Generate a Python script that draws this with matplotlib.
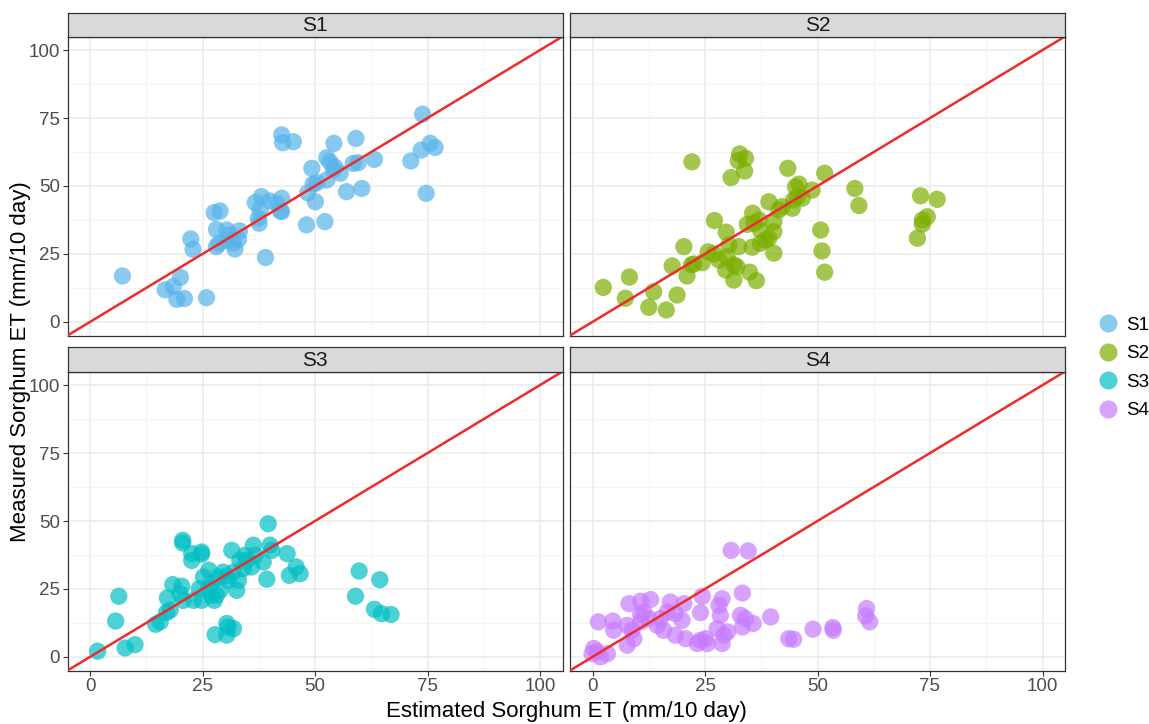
import matplotlib
matplotlib.use("Agg")
import matplotlib.pyplot as plt
from matplotlib.lines import Line2D

plt.rcParams["font.family"] = ["Liberation Sans", "DejaVu Sans"]

# data (estimated ET, measured ET)
s1_est = [7.2, 16.7, 18.5, 20.1, 19.3, 21.0, 25.9, 22.4, 22.9, 27.6, 28.9, 28.1,
          30.4, 33.2, 28.1, 28.7, 30.4, 31.9, 32.2, 33.0, 31.1, 39.0, 36.7, 38.1,
          40.0, 42.6, 41.5, 37.8, 37.4, 37.6, 42.6, 42.3, 42.6, 42.8, 45.2, 48.1,
          52.2, 48.4, 50.1, 49.6, 50.4, 49.3, 52.6, 53.3, 54.1, 52.6, 54.4, 55.6,
          54.2, 57.0, 60.4, 58.5, 59.6, 59.1, 63.2, 71.3, 73.9, 73.6, 75.6, 76.7,
          74.7]
s1_meas = [16.9, 11.8, 13.0, 16.4, 8.3, 8.6, 8.9, 30.5, 26.7, 40.2, 40.8, 34.0,
           33.8, 33.5, 27.7, 28.9, 30.1, 28.9, 26.8, 30.4, 32.0, 23.7, 43.9, 46.1,
           44.5, 45.5, 43.6, 41.2, 38.1, 36.3, 40.6, 40.8, 68.8, 65.9, 66.3, 35.7,
           36.9, 47.5, 44.2, 50.7, 51.2, 56.5, 60.4, 58.9, 55.9, 52.2, 57.0, 54.7,
           65.7, 47.9, 49.1, 58.3, 58.6, 67.5, 59.8, 59.2, 76.4, 63.2, 65.7, 64.2,
           47.3]

s2_est = [2.4, 8.2, 7.3, 13.6, 12.5, 16.4, 18.8, 17.7, 20.3, 21.0, 22.0, 22.5,
          24.4, 25.7, 27.0, 28.1, 22.1, 27.1, 29.7, 30.3, 32.5, 29.6, 31.4, 32.1,
          31.4, 34.9, 36.4, 35.5, 30.8, 32.7, 34.0, 32.4, 33.8, 35.6, 35.9, 37.0,
          37.3, 38.4, 39.2, 40.3, 40.3, 39.2, 40.3, 41.4, 42.1, 44.4, 44.7, 45.1,
          45.9, 45.5, 46.6, 48.8, 43.4, 51.6, 50.7, 51.0, 51.6, 58.3, 59.2, 72.9,
          76.6, 74.4, 73.3, 73.3, 72.2, 34.4, 37.3, 29.9]
s2_meas = [12.7, 16.5, 8.7, 11.1, 5.4, 4.4, 9.9, 20.6, 27.7, 16.9, 21.0, 21.3,
           21.8, 25.8, 25.0, 22.8, 58.9, 37.3, 33.0, 28.3, 27.7, 19.1, 21.0, 20.3,
           15.4, 18.3, 15.2, 27.5, 53.1, 61.8, 60.2, 59.3, 55.5, 40.0, 36.3, 37.5,
           33.8, 30.1, 30.8, 33.2, 25.3, 44.2, 36.9, 41.2, 42.4, 41.8, 44.9, 49.7,
           50.7, 46.1, 45.5, 48.5, 56.5, 54.7, 33.8, 26.1, 18.3, 49.1, 42.8, 46.4,
           45.1, 38.7, 37.5, 36.0, 30.8, 35.9, 28.9, 24.0]

s3_est = [1.7, 7.8, 10.0, 5.7, 6.4, 14.6, 15.6, 17.0, 17.8, 17.2, 18.4, 20.4,
          20.0, 20.7, 23.0, 24.8, 20.6, 20.6, 22.6, 22.6, 24.8, 24.8, 25.2, 26.4,
          24.3, 26.3, 27.6, 28.1, 28.9, 28.5, 29.6, 30.7, 31.5, 32.6, 33.0, 31.9,
          33.3, 34.4, 35.9, 36.3, 36.7, 38.5, 39.6, 40.0, 40.4, 39.3, 43.8, 44.3,
          45.8, 46.7, 27.8, 30.4, 30.7, 31.9, 30.4, 59.8, 64.4, 59.0, 63.2, 64.8,
          66.9, 27.0, 34.1, 30.4, 34.8, 26.9]
s3_meas = [2.1, 3.3, 4.5, 13.2, 22.3, 12.0, 12.9, 16.3, 17.2, 21.7, 26.6, 26.0,
           23.3, 20.8, 20.8, 20.8, 42.9, 41.9, 38.0, 35.5, 38.6, 37.8, 29.4, 31.9,
           25.1, 25.1, 20.8, 22.7, 24.5, 29.4, 31.2, 28.2, 39.2, 24.5, 28.2, 31.2,
           35.5, 37.4, 33.1, 41.1, 37.4, 34.9, 49.0, 41.1, 39.2, 28.6, 38.0, 30.0,
           33.1, 30.6, 8.2, 8.0, 11.0, 10.4, 12.3, 31.6, 28.4, 22.3, 17.5, 15.9,
           15.6, 27.0, 32.5, 29.8, 35.5, 22.7]

s4_est = [30.8, 34.6, 33.3, 24.4, 28.8, 28.1, 24.0, 28.4, 32.9, 34.0, 35.7, 33.3,
          39.6, 43.6, 44.7, 49.0, 53.4, 53.5, 60.9, 60.7, 61.6, 1.3, 4.5, 4.7,
          8.1, 10.7, 12.9, 10.7, 7.7, 8.8, 9.2, 7.7, 10.7, 12.5, 14.4, 15.8,
          17.3, 16.6, 18.4, 20.3, 19.9, 18.4, 20.7, 24.0, 25.1, 25.5, 27.7, 29.2,
          28.8, 30.0, 0.3, -0.1, 1.8, 3.3, 1.0, 23.3, 15.1, 11.4]
s4_meas = [39.2, 39.0, 23.5, 22.3, 21.4, 19.0, 16.3, 15.3, 15.3, 14.1, 12.3, 11.0,
           14.7, 6.7, 6.5, 10.2, 10.8, 9.8, 17.8, 15.1, 12.9, 12.9, 13.2, 9.8,
           19.6, 20.5, 21.1, 15.6, 11.6, 9.8, 6.7, 4.3, 12.9, 14.1, 11.6, 9.8,
           20.2, 16.5, 15.9, 19.6, 13.5, 8.0, 6.7, 6.1, 6.7, 4.9, 10.4, 8.0,
           4.9, 9.2, 3.1, 1.2, 0.0, 1.2, 2.0, 4.9, 14.1, 16.5]

sites = ["S1", "S2", "S3", "S4"]
colors = ["#56B4E9", "#7CAE00", "#00BFC4", "#C77CFF"]
panels = [(s1_est, s1_meas), (s2_est, s2_meas), (s3_est, s3_meas), (s4_est, s4_meas)]
ticks = [0, 25, 50, 75, 100]

W, H = 1149, 724
fig = plt.figure(figsize=(W / 100, H / 100), dpi=100)

# panel boxes in pixels: left, top, width, height
lefts = [67.5, 570, 67.5, 570]
tops = [36.5, 36.5, 371.5, 371.5]
pw, ph, sh = 495, 299, 24

for i, site in enumerate(sites):
    x0, y0 = lefts[i], tops[i]
    ax = fig.add_axes([x0 / W, 1 - (y0 + ph) / H, pw / W, ph / H])
    est, meas = panels[i]

    ax.set_xlim(-5, 105)
    ax.set_ylim(-5, 105)
    ax.set_xticks(ticks)
    ax.set_yticks(ticks)
    ax.set_xticks([12.5, 37.5, 62.5, 87.5], minor=True)
    ax.set_yticks([12.5, 37.5, 62.5, 87.5], minor=True)
    ax.grid(True, which="major", color="#EBEBEB", linewidth=1.1, zorder=0)
    ax.grid(True, which="minor", color="#F2F2F2", linewidth=0.6, zorder=0)
    ax.set_axisbelow(True)
    for sp in ax.spines.values():
        sp.set_color("#333333")
        sp.set_linewidth(0.9)

    ax.tick_params(which="minor", length=0)
    ax.tick_params(which="major", color="#333333", length=3.5, width=0.8,
                   labelsize=13.5, labelcolor="#4D4D4D", pad=2)
    if i % 2 == 1:
        ax.tick_params(axis="y", which="major", length=0, labelleft=False)
    if i < 2:
        ax.tick_params(axis="x", which="major", length=0, labelbottom=False)

    ax.scatter(est, meas, s=155, color=colors[i], alpha=0.7,
               edgecolors="none", zorder=2)
    ax.axline((0, 0), slope=1, color="#F02A2A", linewidth=1.8, zorder=3)

    # facet strip
    sax = fig.add_axes([x0 / W, 1 - y0 / H, pw / W, sh / H])
    sax.set_facecolor("#D9D9D9")
    sax.set_xticks([])
    sax.set_yticks([])
    for sp in sax.spines.values():
        sp.set_color("#333333")
        sp.set_linewidth(0.9)
    sax.text(0.5, 0.45, site, ha="center", va="center", fontsize=15,
             color="#1A1A1A", transform=sax.transAxes)

fig.text((67.5 + 1065) / 2 / W, 1 - 711 / H, "Estimated Sorghum ET (mm/10 day)",
         ha="center", va="center", fontsize=16)
fig.text(21 / W, 1 - 362 / H, "Measured Sorghum ET (mm/10 day)",
         ha="center", va="center", rotation=90, fontsize=16)

handles = [Line2D([], [], marker="o", linestyle="none", markersize=13,
                  markerfacecolor=c, markeredgecolor="none", alpha=0.7)
           for c in colors]
fig.legend(handles, sites, loc="center left", bbox_to_anchor=(1077 / W, 1 - 368 / H),
           frameon=False, fontsize=13.5, handletextpad=0.2, labelspacing=0.6,
           handlelength=1.5)

fig.savefig("out.png", dpi=100)
